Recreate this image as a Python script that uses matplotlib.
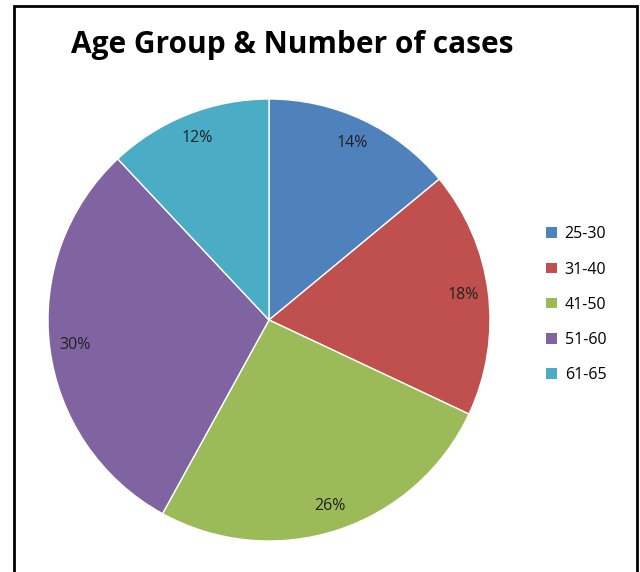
import matplotlib
matplotlib.use("Agg")
import matplotlib.pyplot as plt
from matplotlib.patches import Rectangle, Patch

categories = ["25-30", "31-40", "41-50", "51-60", "61-65"]
values = [14, 18, 26, 30, 12]
colors = ["#4F81BD", "#C0504D", "#9BBB59", "#8064A2", "#4BACC6"]
title = "Age Group & Number of cases"

W, H = 640, 572
fig = plt.figure(figsize=(W / 100, H / 100), dpi=100)
fig.patch.set_facecolor("white")

# outer frame (bottom edge lies outside the image)
fig.add_artist(Rectangle((13.5 / W, -0.05), (637 - 13.5) / W, (H - 6) / H + 0.05,
                         transform=fig.transFigure, fill=False,
                         edgecolor="black", linewidth=2, clip_on=False))

cx, cy, r = 269, 320, 221
ax = fig.add_axes([(cx - r) / W, (H - cy - r) / H, 2 * r / W, 2 * r / H])
wedges, texts, autotexts = ax.pie(
    values, colors=colors, startangle=90, counterclock=False,
    autopct="%d%%", pctdistance=0.885, radius=1,
    wedgeprops=dict(edgecolor="white", linewidth=1),
    textprops=dict(fontsize=11.5, color="#222222", family="Open Sans"))
ax.set_xlim(-1, 1)
ax.set_ylim(-1, 1)
ax.set_aspect("equal")
ax.axis("off")

fig.text(292 / W, 1 - 45 / H, title, ha="center", va="center",
         fontsize=21.5, fontweight="bold", family="Open Sans")

handles = [Patch(facecolor=c, edgecolor="none") for c in colors]
fig.legend(handles, categories, loc="upper left",
           bbox_to_anchor=(532 / W, 1 - 212 / H), frameon=False,
           prop=dict(family="Open Sans", size=11.5), handlelength=0.65,
           handleheight=0.65, handletextpad=0.5, labelspacing=1.2)

fig.savefig("out.png", dpi=100)
